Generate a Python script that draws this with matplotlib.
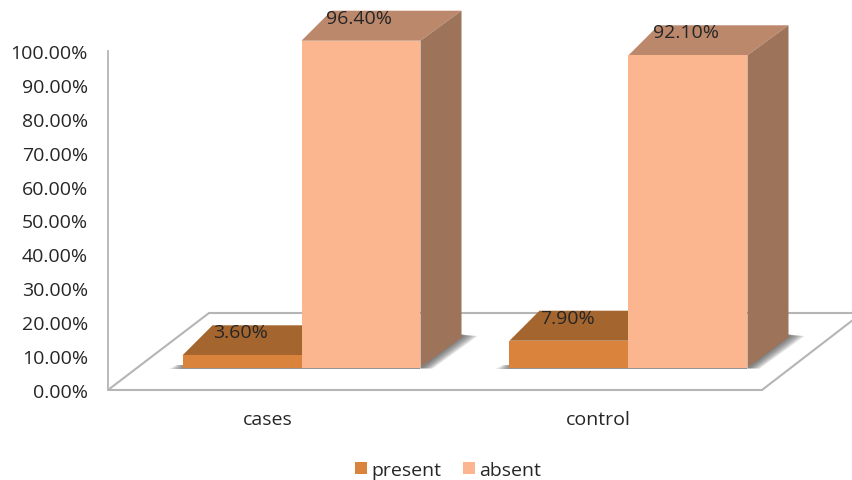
import matplotlib
matplotlib.use("Agg")
import matplotlib.pyplot as plt
from matplotlib.patches import Polygon, Patch

categories = ["cases", "control"]
present = [3.6, 7.9]
absent = [96.4, 92.1]
value_ticks = [0, 10, 20, 30, 40, 50, 60, 70, 80, 90, 100]

W, H = 852, 481
plt.rcParams["font.family"] = ["Open Sans", "DejaVu Sans"]
TXT = "#262626"
GRID = "#B5B5B5"
FS = 14
C_PRES = ("#DA833C", "#A5652E", "#A5652E")
C_ABS = ("#FBB58F", "#BC886C", "#9D735A")

fig = plt.figure(figsize=(W / 100, H / 100), dpi=100)

# value axis: the left wall edge plus the category labels
L, R, T, B = 108, 762, 52, 391
axv = fig.add_axes([L / W, 1 - B / H, (R - L) / W, (B - T) / H], zorder=1)
axv.patch.set_alpha(0)
axv.set_xlim(0, 2)
axv.set_ylim(0, 100)
for s in ("top", "right", "bottom"):
    axv.spines[s].set_visible(False)
axv.spines["left"].set_color(GRID)
axv.spines["left"].set_linewidth(1.3)
axv.set_yticks(value_ticks)
axv.set_yticklabels([f"{v:.2f}%" for v in value_ticks], fontsize=FS, color=TXT)
axv.set_xticks([0.49, 1.5])
axv.set_xticklabels(categories, fontsize=FS, color=TXT)
axv.tick_params(axis="both", length=0)
axv.tick_params(axis="y", pad=14.5)
axv.tick_params(axis="x", pad=14.7)

# 3D plane: same category units in x, percent in y, measured from the bars' base
UX, UY = (R - L) / 2, 3.39
BASE = 368.5
ax = fig.add_axes([0, 0, 1, 1], zorder=2)
ax.patch.set_alpha(0)
ax.set_xlim(-L / UX, (W - L) / UX)
ax.set_ylim((BASE - H) / UY, BASE / UY)
ax.axis("off")


def X(p):
    return (p - L) / UX


def Y(p):
    return (BASE - p) / UY


# floor
ax.add_patch(Polygon([(X(108), Y(391)), (X(762), Y(391)), (X(862), Y(314)), (X(209), Y(314))],
                     closed=True, facecolor="white", edgecolor=GRID, linewidth=1.5, zorder=1))

BW = 119 / UX
OFF = 30 / UX
DXL, DXR, DY = 30 / UX, 41 / UX, 30 / UY


def box(x0, x1, v, cols, z, dxl=DXL):
    front, top, side = cols
    ax.add_patch(Polygon([(x0, 0), (x1, 0), (x1, v), (x0, v)], facecolor=front, edgecolor="none", zorder=z + 0.2))
    ax.add_patch(Polygon([(x0, v), (x1, v), (x1 + DXR, v + DY), (x0 + dxl, v + DY)], facecolor=top, edgecolor="none", zorder=z))
    ax.add_patch(Polygon([(x1, 0), (x1 + DXR, DY), (x1 + DXR, v + DY), (x1, v)], facecolor=side, edgecolor="none", zorder=z + 0.1))


for i, (p, a) in enumerate(zip(present, absent)):
    c = i + 0.5 + OFF
    x0, x1 = c - BW, c + BW
    # soft floor shadow: stacked translucent layers, widest first
    for k in (1.0, 0.85, 0.7, 0.55, 0.4, 0.25, 0.12):
        ax.add_patch(Polygon([(x1, -1.5 * k / UY), (x1 + (12 * k) / UX, -1.0 * k / UY),
                              (x1 + DXR + 16 * k / UX, DY + 1.5 / UY),
                              (x1 + DXR, DY + 3 / UY), (x1, 0)],
                             facecolor="#505050", edgecolor="none", alpha=0.17, zorder=2))
        ax.add_patch(Polygon([(x0 - 14 * k / UX, -1.5 / UY), (x1, -1.5 / UY), (x1, 2.5 / UY), (x0 - 6 * k / UX, 2.5 / UY)],
                             facecolor="#505050", edgecolor="none", alpha=0.12, zorder=2))
    box(x0, c, p, C_PRES, 3)
    box(c, x1, a, C_ABS, 4)
    ax.annotate(f"{p:.2f}%", (c - BW / 2, p), xytext=(-1.2, 16.5), textcoords="offset points",
                ha="center", va="center", fontsize=FS, color=TXT, zorder=6)
    ax.annotate(f"{a:.2f}%", (c + BW / 2, a), xytext=(-1.5, 16.5), textcoords="offset points",
                ha="center", va="center", fontsize=FS, color=TXT, zorder=6)

handles = [Patch(facecolor=C_PRES[0], label="present"), Patch(facecolor=C_ABS[0], label="absent")]
ax.legend(handles=handles, loc="center", bbox_to_anchor=(448 / W, 1 - 471 / H), ncol=2, frameon=False,
          fontsize=FS, labelcolor=TXT, handlelength=0.62, handleheight=0.62,
          handletextpad=0.2, columnspacing=1.15, borderpad=0)

fig.savefig("out.png", dpi=100)
